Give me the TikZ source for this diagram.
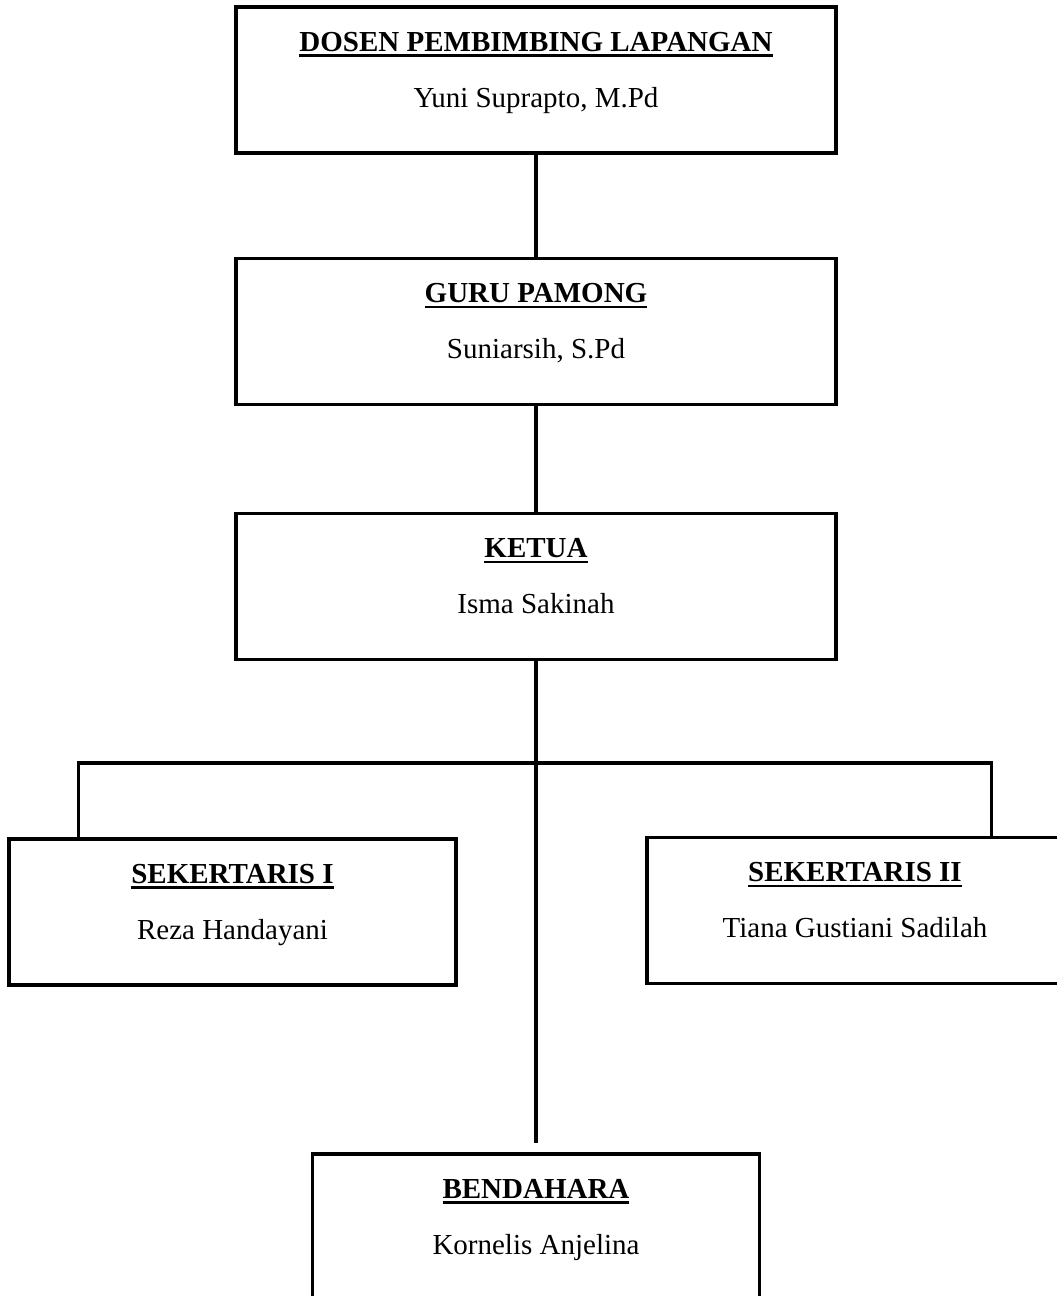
\documentclass[tikz,border=0pt]{standalone}
\usepackage{fontspec}
\setmainfont{Liberation Serif}
\newcommand{\garisbawah}[1]{\setbox0\hbox{#1}\rlap{\rule[-5.8pt]{\wd0}{2.7pt}}\box0}
\begin{document}
\begin{tikzpicture}[x=1pt, y=-1pt,
    kotak/.style={draw, line width=3.6pt, minimum height=146pt, inner sep=0pt, outer sep=0pt},
    judul/.style={font=\fontsize{29}{34}\selectfont\bfseries, anchor=base, inner sep=0pt},
    nama/.style={font=\fontsize{29}{34}\selectfont, anchor=base, inner sep=0pt},
    garis/.style={line width=3.4pt}]
      \useasboundingbox (0,0) rectangle (1057,1296);
      \clip (0,0) rectangle (1057,1296);

      % Draw the boxes with the title and the name in each
      \foreach \nm/\x/\y/\w/\jab/\org in {
          dosen/536/80/600/{DOSEN PEMBIMBING LAPANGAN}/{Yuni Suprapto, M.Pd},
          guru/536/331.5/600/{GURU PAMONG}/{Suniarsih, S.Pd},
          ketua/536/586.5/600/{KETUA}/{Isma Sakinah},
          sek1/232.5/912/447/{SEKERTARIS I}/{Reza Handayani},
          sek2/855/910.5/416/{SEKERTARIS II}/{Tiana Gustiani Sadilah},
          bendahara/536/1227/447/{BENDAHARA}/{Kornelis Anjelina}} {
          \node[kotak, minimum width=\w pt] (\nm) at (\x,\y) {};
          \node[judul] (\nm-judul) at ([yshift=-44pt]\nm.north) {\garisbawah{\jab}};
          \node[nama] (\nm-nama) at ([yshift=-100pt]\nm.north) {\org};
      }

      % Draw the vertical lines down the middle
      \draw[garis] (dosen) -- (guru);
      \draw[garis] (guru) -- (ketua);
      \coordinate (ujung) at ([yshift=11pt]bendahara.north);
      \draw[garis] (ketua.south) -- (ujung);

      % Draw the branch to the two secretaries
      \coordinate (kiri) at (78.5,763);
      \coordinate (kanan) at (991.5,763);
      \draw[garis] (kiri |- sek1.north) -- (kiri) -- (kanan) -- (kanan |- sek2.north);

\end{tikzpicture}
\end{document}
